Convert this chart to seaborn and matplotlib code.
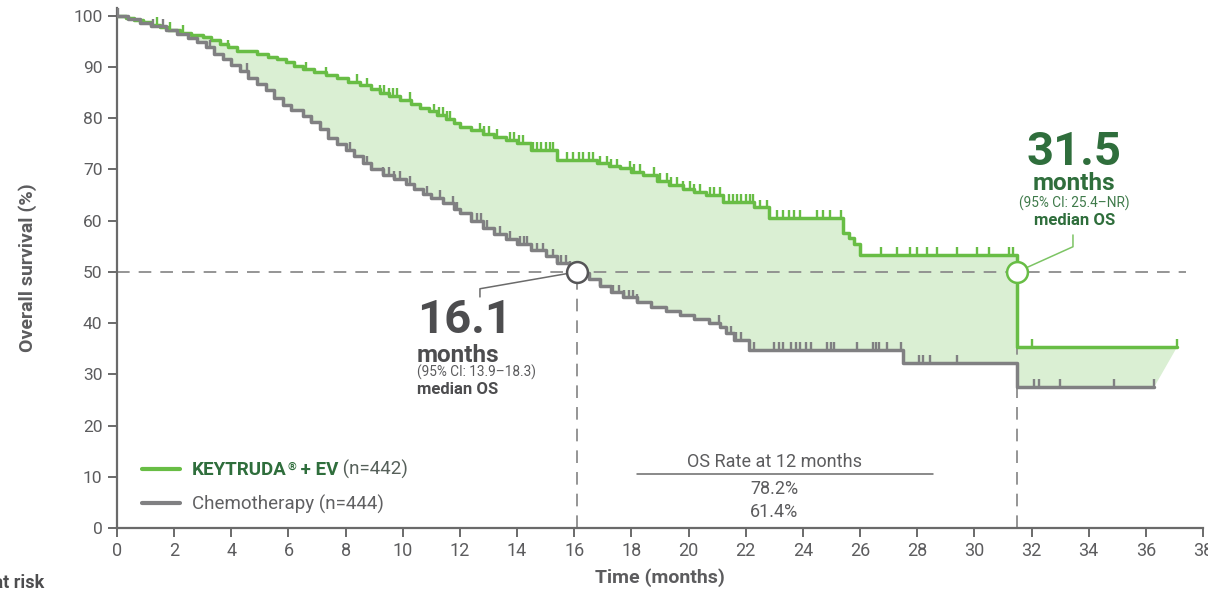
import numpy as np
import matplotlib
matplotlib.use("Agg")
import matplotlib.pyplot as plt
from matplotlib.lines import Line2D
import seaborn as sns

# Kaplan-Meier overall survival, KEYTRUDA + EV vs chemotherapy
t_kev = [0, 0.3, 0.6, 0.9, 1.2, 1.5, 1.8, 2.2, 2.6, 3.0, 3.3, 3.6, 3.9, 4.2, 4.9,
         5.3, 5.6, 5.9, 6.2, 6.5, 6.9, 7.3, 7.7, 8.1, 8.5, 8.9, 9.2, 9.5, 9.9,
         10.3, 10.6, 10.9, 11.2, 11.5, 11.8, 12.0, 12.4, 12.8, 13.2, 13.6, 14.0,
         14.5, 15.4, 16.8, 17.2, 17.6, 18.0, 18.4, 18.9, 19.3, 19.8, 20.2, 20.6,
         21.2, 22.3, 22.8, 25.4, 25.6, 25.8, 26.0, 31.5]
s_kev = [100, 99.6, 99.2, 98.7, 98.2, 97.8, 97.3, 96.7, 96.3, 95.8, 95.2, 94.4,
         93.8, 93.2, 92.6, 92.0, 91.5, 90.9, 90.2, 89.5, 89.0, 88.4, 87.8, 87.1,
         86.4, 85.6, 85.0, 84.4, 83.6, 82.8, 82.0, 81.3, 80.6, 79.8, 79.0, 78.2,
         77.6, 77.0, 76.4, 75.8, 75.2, 73.8, 71.9, 71.2, 70.6, 70.2, 69.5, 68.9,
         67.8, 67.0, 66.2, 65.6, 65.0, 63.6, 62.6, 60.6, 57.6, 56.6, 55.4, 53.3,
         35.4]
end_kev = 37.1

t_chemo = [0, 0.4, 0.8, 1.2, 1.7, 2.1, 2.5, 2.8, 3.1, 3.4, 3.7, 4.0, 4.3, 4.6,
           4.9, 5.2, 5.5, 5.8, 6.1, 6.5, 6.8, 7.1, 7.4, 7.7, 8.0, 8.3, 8.6, 8.9,
           9.3, 9.7, 10.1, 10.4, 10.7, 11.0, 11.4, 11.8, 12.0, 12.4, 12.8, 13.2,
           13.6, 14.0, 14.5, 15.0, 15.4, 15.8, 16.1, 16.5, 16.9, 17.3, 17.7, 18.2,
           18.7, 19.2, 19.7, 20.2, 20.7, 21.1, 21.3, 21.6, 22.1, 27.5, 31.5]
s_chemo = [100, 99.3, 98.6, 97.9, 97.2, 96.4, 95.6, 94.8, 93.8, 92.6, 91.5,
           90.4, 89.2, 87.8, 86.6, 85.4, 84.0, 82.6, 81.6, 80.4, 79.2, 77.8, 76.2,
           75.0, 73.8, 72.6, 71.2, 70.0, 69.0, 68.2, 67.2, 66.2, 65.2, 64.4, 63.4,
           62.2, 61.4, 60.0, 58.6, 57.4, 56.4, 55.4, 54.2, 53.0, 51.8, 50.6, 49.8,
           48.6, 47.2, 46.0, 45.0, 44.2, 43.2, 42.4, 41.6, 40.8, 40.0, 39.2, 38.0,
           36.7, 34.8, 32.2, 27.6]
end_chemo = 36.3

# censoring times
cens_kev = [1.4, 1.85, 2.3, 3.9, 6.6, 7.3, 8.4, 8.75, 9.2, 9.35, 9.5, 9.65, 9.8,
            10.25, 11.1, 11.25, 11.4, 11.55, 11.65, 12.7, 12.85, 13.0, 13.3,
            13.75, 13.9, 14.05, 14.2, 14.55, 14.7, 14.85, 15.0, 15.15, 15.25,
            15.75, 15.95, 16.15, 16.3, 16.5, 16.65, 16.9, 17.15, 17.3, 17.5,
            17.95, 18.1, 18.3, 18.8, 19.0, 19.25, 19.4, 19.6, 19.8, 20.05, 20.2,
            20.4, 20.75, 20.9, 21.1, 21.4, 21.55, 21.7, 21.85, 22.0, 22.15, 22.25,
            22.5, 22.75, 23.1, 23.3, 23.5, 23.7, 23.9, 24.5, 24.7, 24.95, 25.35,
            26.75, 27.3, 27.75, 28.0, 28.35, 28.7, 29.4, 30.1, 30.5, 31.2, 31.35,
            32.0, 37.1]
cens_chemo = [0.05, 1.27, 1.6, 3.25, 4.55, 6.8, 8.15, 8.75, 9.3, 9.5, 9.7, 9.9,
              10.25, 10.85, 11.3, 11.75, 11.9, 12.6, 12.75, 12.95, 13.4, 13.75,
              14.1, 14.25, 14.35, 14.7, 14.9, 15.25, 15.4, 15.55, 15.7, 15.85,
              16.9, 17.35, 17.55, 17.75, 17.9, 18.05, 18.2, 21.05, 21.5, 21.65,
              21.85, 22.3, 23.0, 23.15, 23.3, 23.6, 23.75, 23.9, 24.1, 24.3, 24.85,
              25.0, 25.1, 25.9, 26.45, 26.55, 26.65, 26.95, 27.45, 28.05, 28.2,
              28.45, 29.4, 32.1, 32.25, 33.0, 34.9, 36.3]

median_kev = 31.5
median_chemo = 16.1
os12_labels = ["78.2%", "61.4%"]
x_ticks = list(range(0, 39, 2))
y_ticks = list(range(0, 101, 10))

GREEN = "#68bd45"
GREEN_DARK = "#2f6e3c"
GRAY = "#808082"
GRAY_DARK = "#4d4d4f"
TEXT = "#5c5c5e"
FILL = "#daefd3"
AXIS = "#6a6a6a"

sns.set_theme(style="white")
plt.rcParams["font.family"] = ["Roboto", "DejaVu Sans"]


def step_points(t, s, t_end):
    """Vertices of a right-continuous step curve."""
    xs, ys = [], []
    for i in range(len(t)):
        xs.append(t[i]); ys.append(s[i - 1] if i else s[0])
        xs.append(t[i]); ys.append(s[i])
    xs.append(t_end); ys.append(s[-1])
    return np.array(xs), np.array(ys)


def surv_at(t, s, times):
    idx = np.searchsorted(np.array(t), np.array(times), side="right") - 1
    return np.array(s)[idx]


fig = plt.figure(figsize=(12.08, 5.90), dpi=100)
ax = fig.add_axes([117 / 1208, 1 - 528 / 590, 1086 / 1208, 520 / 590])

# shaded gap between the two curves
gx, gy = step_points(t_kev, s_kev, end_kev)
cx, cy = step_points(t_chemo, s_chemo, end_chemo)
ax.fill(np.concatenate([gx, cx[::-1]]), np.concatenate([gy, cy[::-1]]),
        color=FILL, lw=0, zorder=1)

# 50% reference and median drop lines
dash = dict(color="#8c8c8c", lw=1.3, dashes=(7, 5), zorder=2)
ax.plot([0, 37.4], [50, 50], **dash)
for m in (median_chemo, median_kev):
    ax.plot([m, m], [0, 50], **dash)

# survival curves
sns.lineplot(x=gx, y=gy, color=GREEN, lw=2.5, sort=False, estimator=None,
             ax=ax, zorder=3)
sns.lineplot(x=cx, y=cy, color=GRAY, lw=2.5, sort=False, estimator=None,
             ax=ax, zorder=3)

# censor marks
ax.vlines(cens_kev, surv_at(t_kev, s_kev, cens_kev),
          surv_at(t_kev, s_kev, cens_kev) + 1.5, color=GREEN, lw=1.7, zorder=3)
ax.vlines(cens_chemo, surv_at(t_chemo, s_chemo, cens_chemo),
          surv_at(t_chemo, s_chemo, cens_chemo) + 1.5, color=GRAY, lw=1.7,
          zorder=3)

# median annotations
ax.plot([median_chemo, 12.7, 12.7], [50, 46.7, 45.1], color="#6b6b6b", lw=1.1,
        zorder=4)
ax.plot([median_kev, 33.45, 33.45], [50, 54.9, 57.2], color="#7cc464", lw=1.1,
        zorder=4)
ax.plot([median_chemo], [50], "o", ms=15, mfc="white", mec="#555557", mew=1.8,
        zorder=5)
ax.plot([median_kev], [50], "o", ms=15, mfc="white", mec=GREEN, mew=1.8,
        zorder=5)

ax.text(10.5, 38.1, f"{median_chemo}", ha="left", va="baseline", fontsize=34,
        fontweight="bold", color=GRAY_DARK)
ax.text(10.5, 32.4, "months", ha="left", va="baseline", fontsize=17.5,
        fontweight="bold", color=GRAY_DARK)
ax.text(10.5, 29.5, "(95% CI: 13.9\u201318.3)", ha="left", va="baseline",
        fontsize=9.8, color=TEXT)
ax.text(10.5, 26.2, "median OS", ha="left", va="baseline", fontsize=12,
        fontweight="bold", color=GRAY_DARK)

ax.text(33.5, 70.9, f"{median_kev}", ha="center", va="baseline", fontsize=34,
        fontweight="bold", color=GREEN_DARK)
ax.text(33.5, 66.0, "months", ha="center", va="baseline", fontsize=17.5,
        fontweight="bold", color=GREEN_DARK)
ax.text(33.5, 62.5, "(95% CI: 25.4\u2013NR)", ha="center", va="baseline",
        fontsize=9.8, color="#3f7a4a")
ax.text(33.5, 59.2, "median OS", ha="center", va="baseline", fontsize=12,
        fontweight="bold", color=GREEN_DARK)

# 12-month OS table
ax.text(23.0, 12.9, "OS Rate at 12 months", ha="center", va="center",
        fontsize=13, color=TEXT)
ax.plot([18.2, 28.55], [10.5, 10.5], color="#6a6a6a", lw=1.1)
ax.text(23.0, 7.6, os12_labels[0], ha="center", va="center", fontsize=13,
        color=TEXT)
ax.text(23.0, 3.1, os12_labels[1], ha="center", va="center", fontsize=13,
        color=TEXT)

# legend; the first label is assembled from pieces so the mark is raised
handles = [Line2D([], [], color=GREEN, lw=3), Line2D([], [], color=GRAY, lw=3)]
leg = ax.legend(handles, ["KEYTRUDA", "Chemotherapy (n=444)"],
                loc="lower left", bbox_to_anchor=(25 / 1086, 14 / 520),
                frameon=False, fontsize=13.5, handlelength=2.05,
                handletextpad=0.6, labelspacing=0.82, borderpad=0,
                borderaxespad=0)
lt = leg.get_texts()
lt[0].set_fontweight("bold")
lt[0].set_color(GREEN_DARK)
lt[1].set_color("#606062")
fig.canvas.draw()
reg = ax.annotate("\u00ae", xy=(1, 1), xycoords=lt[0], xytext=(0.5, 0),
                  textcoords="offset points", ha="left", va="top",
                  fontsize=8, fontweight="bold", color=GREEN_DARK)
fig.canvas.draw()
ev = ax.annotate(" + EV", xy=(1, 0), xycoords=(reg, lt[0]), ha="left",
                 va="bottom", fontsize=13.5, fontweight="bold",
                 color=GREEN_DARK)
fig.canvas.draw()
ax.annotate(" (n=442)", xy=(1, 0), xycoords=(ev, lt[0]), ha="left",
            va="bottom", fontsize=13.5, color="#56605a")

# axes styling
ax.set_xlim(0, 38)
ax.set_ylim(0, 101.5)
ax.set_xticks(x_ticks)
ax.set_yticks(y_ticks)
ax.tick_params(axis="x", length=6.5, width=1.4, color=AXIS, labelsize=13,
               labelcolor=TEXT, pad=3.5, bottom=True)
ax.tick_params(axis="y", length=6.5, width=1.4, color=AXIS, labelsize=12.5,
               labelcolor=TEXT, pad=4, left=True)
for side in ("top", "right"):
    ax.spines[side].set_visible(False)
for side in ("left", "bottom"):
    ax.spines[side].set_color(AXIS)
    ax.spines[side].set_linewidth(1.6)
ax.grid(False)
ax.set_xlabel("Time (months)", fontsize=14, fontweight="bold", color=TEXT,
              labelpad=6)
ax.set_ylabel("Overall survival (%)", fontsize=14, fontweight="bold",
              color=TEXT)
ax.yaxis.label.set_verticalalignment("center")
ax.yaxis.set_label_coords(-(117 - 28) / 1086, 0.5)

fig.text(44 / 1208, 1 - 588 / 590, "Number at risk", ha="right",
         va="baseline", fontsize=13, fontweight="bold", color="#4d4d4f")

fig.savefig("out.png", dpi=100)
